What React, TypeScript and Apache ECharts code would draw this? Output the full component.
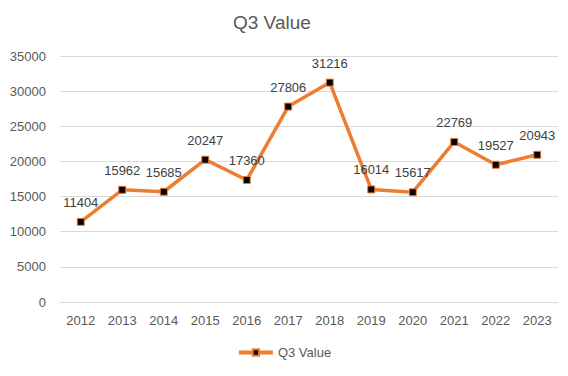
import React, { useEffect, useRef } from "react";
import * as echarts from "echarts";

const years = ["2012", "2013", "2014", "2015", "2016", "2017", "2018", "2019", "2020", "2021", "2022", "2023"];
const q3Values = [11404, 15962, 15685, 20247, 17360, 27806, 31216, 16014, 15617, 22769, 19527, 20943];
const seriesName = "Q3 Value";

export default function App() {
  const ref = useRef<HTMLDivElement>(null);
  useEffect(() => {
    if (!ref.current) return;
    const chart = echarts.init(ref.current, null, { renderer: "svg" });
    const font = "Liberation Sans, Arial, sans-serif";
    chart.setOption({
      animation: false,
      textStyle: { fontFamily: font },
      title: {
        text: "Q3 Value",
        left: 228,
        top: 8,
        textStyle: { fontSize: 19, fontWeight: "normal", color: "#595959", fontFamily: font },
      },
      legend: {
        bottom: 12,
        left: "center",
        itemWidth: 34,
        itemHeight: 8,
        lineStyle: { width: 4, color: "#ED7D31" },
        textStyle: { fontSize: 13, color: "#595959" },
        data: [seriesName],
      },
      grid: { left: 60, right: 10, top: 56, bottom: 74, containLabel: false },
      xAxis: {
        type: "category",
        data: years,
        boundaryGap: true,
        axisLine: { show: true, lineStyle: { color: "#d9d9d9" } },
        axisTick: { show: false },
        axisLabel: { color: "#595959", fontSize: 13, margin: 12 },
      },
      yAxis: {
        type: "value",
        min: 0,
        max: 35000,
        interval: 5000,
        axisLine: { show: false },
        axisTick: { show: false },
        axisLabel: { color: "#595959", fontSize: 13, margin: 14, formatter: (v: number) => String(v) },
        splitLine: { lineStyle: { color: "#d9d9d9" } },
      },
      series: [
        {
          name: seriesName,
          type: "line",
          data: q3Values,
          symbol: "rect",
          symbolSize: 7,
          lineStyle: { color: "#ED7D31", width: 3.5 },
          itemStyle: { color: "#000000", borderColor: "#ED7D31", borderWidth: 1 },
          label: {
            show: true,
            position: "top",
            distance: 9,
            fontSize: 13,
            color: "#404040",
          },
        },
      ],
    });
    return () => chart.dispose();
  }, []);
  return <div ref={ref} style={{ width: 568, height: 376, position: "absolute", left: 0, top: 0 }} />;
}
